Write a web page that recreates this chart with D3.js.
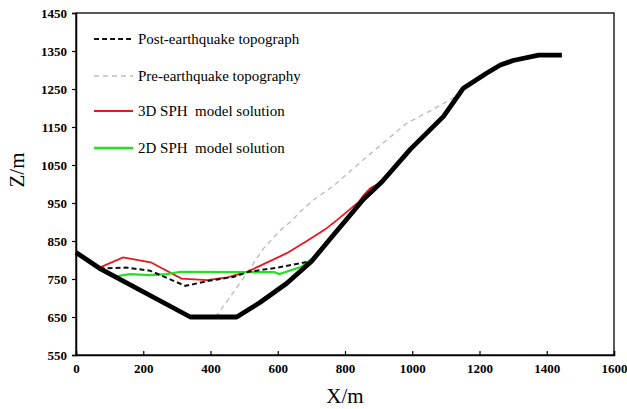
<!DOCTYPE html>
<html><head><meta charset="utf-8">
<script src="https://cdn.jsdelivr.net/npm/d3@7"></script>
<style>body{margin:0;background:#fff}svg{display:block}</style>
</head><body>
<svg id="c" width="627" height="409"></svg>
<script>
const xTicks = [0,200,400,600,800,1000,1200,1400,1600];
const yTicks = [550,650,750,850,950,1050,1150,1250,1350,1450];
const seriesNames = ["Post-earthquake topograph","Pre-earthquake topography","3D SPH  model solution","2D SPH  model solution"];
const slidingSurface = [[0,820],[70,778],[340,650],[478,650],[547,688],[627,739],[700,796],[760,860],[855,960],[910,1006],[994,1091],[1093,1178],[1152,1252],[1222,1292],[1262,1313],[1300,1325],[1376,1339],[1445,1339]];
const postQuake = [[70,778],[150,780],[220,772],[325,732],[400,746],[470,756],[513,769],[600,780],[695,796]];
const preQuake = [[415,650],[460,705],[512,770],[560,833],[610,880],[640,902],[667,927],[706,958],[766,995],[865,1072],[984,1160],[1063,1197],[1133,1232],[1152,1252]];
const sph3d = [[70,780],[140,807],[222,794],[314,751],[390,747],[450,754],[512,770],[550,786],[627,818],[690,852],[740,880],[776,905],[840,952],[855,970],[875,989],[910,1006]];
const sph2d = [[110,756],[160,763],[220,760],[270,763],[310,769],[590,768],[605,763],[670,782],[700,802]];

const svg = d3.select("#c");
const L=76,R=614,T=13,B=355;
const x = d3.scaleLinear().domain([0,1600]).range([L,R]);
const y = d3.scaleLinear().domain([550,1450]).range([B,T]);
const font = "'Liberation Serif','Times New Roman',serif";

svg.append("rect").attr("x",L).attr("y",T).attr("width",R-L).attr("height",B-T)
  .attr("fill","none").attr("stroke","#000").attr("stroke-width",1.3);

const ya = svg.append("g").attr("transform",`translate(${L},0)`)
  .call(d3.axisLeft(y).tickValues(yTicks).tickSize(4).tickPadding(5).tickFormat(d3.format("d")));
const xa = svg.append("g").attr("transform",`translate(0,${B})`)
  .call(d3.axisBottom(x).tickValues(xTicks).tickSize(-4).tickPadding(9).tickFormat(d3.format("d")));
[ya,xa].forEach(g=>{
  g.attr("font-family",font);
  g.select(".domain").attr("stroke","#000").attr("stroke-width",1.5);
  g.selectAll(".tick line").attr("stroke","#000").attr("stroke-width",1.2);
  g.selectAll("text").attr("font-family",font).attr("font-weight","bold").attr("font-size",13).attr("fill","#000");
});

const line = d3.line().x(d=>x(d[0])).y(d=>y(d[1]));
const plot = svg.append("g");
plot.append("path").datum(preQuake).attr("d",line).attr("fill","none").attr("stroke","#bdbdbd").attr("stroke-width",1.4).attr("stroke-dasharray","5,4");
plot.append("path").datum(sph3d).attr("d",line).attr("fill","none").attr("stroke","#e8161e").attr("stroke-width",1.8);
plot.append("path").datum(sph2d).attr("d",line).attr("fill","none").attr("stroke","#22e022").attr("stroke-width",2.2);
plot.append("path").datum(postQuake).attr("d",line).attr("fill","none").attr("stroke","#111").attr("stroke-width",2).attr("stroke-dasharray","5,3");
plot.append("path").datum(slidingSurface).attr("d",line).attr("fill","none").attr("stroke","#000").attr("stroke-width",4.8).attr("stroke-linejoin","round");

const legStyles = [
  {stroke:"#111",w:2,dash:"5,3"},
  {stroke:"#bdbdbd",w:1.6,dash:"5,4"},
  {stroke:"#e8161e",w:2,dash:null},
  {stroke:"#22e022",w:2.5,dash:null}
];
const legY = [39,76,111,148];
seriesNames.forEach((n,i)=>{
  const g = svg.append("g");
  g.append("line").attr("x1",94).attr("x2",133).attr("y1",legY[i]).attr("y2",legY[i])
    .attr("stroke",legStyles[i].stroke).attr("stroke-width",legStyles[i].w)
    .attr("stroke-dasharray",legStyles[i].dash);
  g.append("text").attr("x",138).attr("y",legY[i]).attr("dy","0.33em")
    .attr("font-family",font).attr("font-size",15).attr("fill","#000")
    .style("white-space","pre").text(n);
});

svg.append("text").attr("x",345).attr("y",396).attr("dy","0.35em").attr("text-anchor","middle")
  .attr("font-family",font).attr("font-size",21).attr("fill","#000").text("X/m");
svg.append("text").attr("transform","translate(17,170) rotate(-90)").attr("dy","0.35em").attr("text-anchor","middle")
  .attr("font-family",font).attr("font-size",21).attr("fill","#000").text("Z/m");
</script>
</body></html>
